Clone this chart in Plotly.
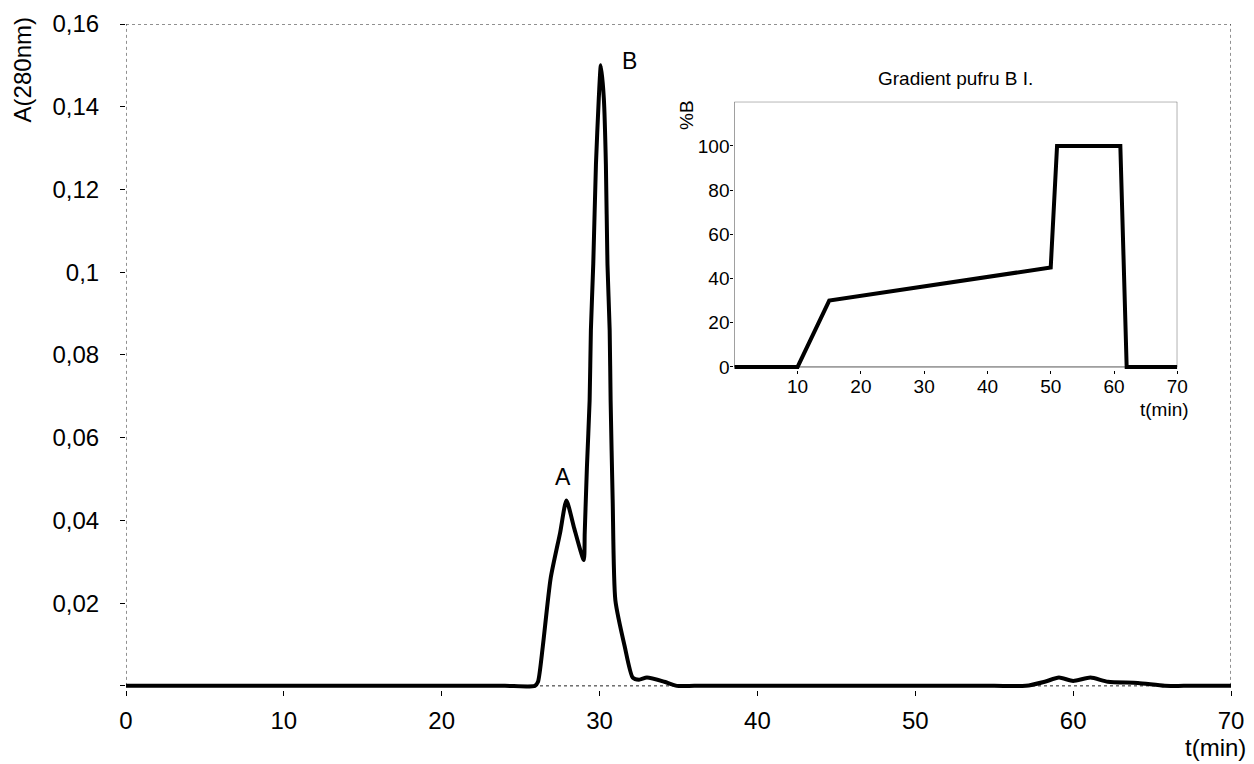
import plotly.graph_objects as go

# Chromatogram: elution time (min) vs absorbance at 280 nm
time_min = [0, 5, 10, 15, 20, 24, 25.9, 26.1, 26.4, 26.9, 27.5, 27.9, 28.4, 29.0, 29.06,
            29.2, 29.37, 29.45, 29.6, 29.77, 29.95, 30.08, 30.27, 30.4, 30.5, 30.64, 30.7,
            30.83, 31.0, 31.6, 32.1, 32.5, 33.0, 34.1, 34.9, 36, 40, 45, 50, 55, 57.0,
            58.2, 59.1, 60.0, 61.1, 62.2, 64.1, 65.8, 67, 70]
absorbance = [0, 0, 0, 0, 0, 0, 0, 0.001, 0.0094, 0.026, 0.037, 0.0448, 0.038, 0.0304, 0.037,
              0.053, 0.069, 0.086, 0.102, 0.126, 0.142, 0.150, 0.142, 0.126, 0.102, 0.086, 0.069,
              0.045, 0.0207, 0.0094, 0.002, 0.0015, 0.002, 0.001, 0, 0, 0, 0, 0, 0, 0,
              0.001, 0.002, 0.0012, 0.002, 0.001, 0.0007, 0, 0, 0]

# Buffer B gradient program
grad_time = [0, 10, 15, 50, 51, 61, 62, 70]
grad_pct_b = [0, 0, 30, 45, 100, 100, 0, 0]

x_ticks = [0, 10, 20, 30, 40, 50, 60, 70]
y_tick_vals = [0, 0.02, 0.04, 0.06, 0.08, 0.1, 0.12, 0.14, 0.16]
y_tick_text = ["", "0,02", "0,04", "0,06", "0,08", "0,1", "0,12", "0,14", "0,16"]

inset_x_ticks = [10, 20, 30, 40, 50, 60, 70]
inset_y_ticks = [0, 20, 40, 60, 80, 100]

peak_labels = ["A", "B"]
peak_label_pos = [(27.69, 0.0504), (31.91, 0.1511)]

FONT = "Liberation Sans, Arial, sans-serif"

# Axis ranges start slightly below zero so the thick baseline is not cut in half
Y_MAIN = [-0.001, 0.16]
Y_INSET = [-1.5, 120]

fig = go.Figure()

fig.add_trace(go.Scatter(
    x=time_min, y=absorbance, mode="lines",
    line=dict(color="black", width=4, shape="spline", smoothing=0.6),
    xaxis="x", yaxis="y", showlegend=False, hoverinfo="skip",
))

fig.add_trace(go.Scatter(
    x=grad_time, y=grad_pct_b, mode="lines",
    line=dict(color="black", width=4),
    xaxis="x2", yaxis="y2", showlegend=False, hoverinfo="skip",
))

# Dotted frame around the main plot area
for x0, y0, x1, y1 in [(0, 0, 0, 0.16), (0, 0.16, 70, 0.16), (70, 0, 70, 0.16), (0, 0, 70, 0)]:
    fig.add_shape(type="line", xref="x", yref="y", x0=x0, y0=y0, x1=x1, y1=y1,
                  line=dict(color="#222", width=1, dash="dot"), layer="below")

# Thin box around the inset
fig.add_shape(type="rect", xref="x2", yref="y2", x0=0, y0=0, x1=70, y1=120,
              line=dict(color="#555", width=1), fillcolor="rgba(0,0,0,0)", layer="below")

annotations = [
    dict(text="A(280nm)", xref="paper", yref="paper", x=-0.0937, y=0.931,
         textangle=-90, showarrow=False, font=dict(size=24, family=FONT, color="black"),
         xanchor="center", yanchor="middle"),
    dict(text="t(min)", xref="paper", yref="paper", x=1.015, y=-0.0856,
         showarrow=False, font=dict(size=24, family=FONT, color="black"),
         xanchor="right", yanchor="middle"),
    dict(text="Gradient pufru B I.", xref="paper", yref="paper", x=0.7505, y=0.9177,
         showarrow=False, font=dict(size=19, family=FONT, color="black"),
         xanchor="center", yanchor="middle"),
    dict(text="%B", xref="paper", yref="paper", x=0.507, y=0.8638,
         textangle=-90, showarrow=False, font=dict(size=19, family=FONT, color="black"),
         xanchor="center", yanchor="middle"),
    dict(text="t(min)", xref="paper", yref="paper", x=0.9640, y=0.4208,
         showarrow=False, font=dict(size=19, family=FONT, color="black"),
         xanchor="right", yanchor="middle"),
]
for label, (px, py) in zip(peak_labels, peak_label_pos):
    annotations.append(dict(text=label, x=px, y=py, xref="x", yref="y", showarrow=False,
                            font=dict(size=23, family=FONT, color="black"),
                            xanchor="center", yanchor="middle"))

fig.update_layout(
    width=1254, height=764,
    margin=dict(l=126, r=10, t=19, b=74),
    paper_bgcolor="white", plot_bgcolor="white",
    font=dict(family=FONT, color="black"),
    annotations=annotations,
    xaxis=dict(range=[0, 70], tickvals=x_ticks, ticks="outside", ticklen=5,
               tickcolor="black", tickwidth=1, showgrid=False, zeroline=False,
               showline=False, tickfont=dict(size=24), ticklabelstandoff=4),
    yaxis=dict(range=Y_MAIN, tickvals=y_tick_vals, ticktext=y_tick_text,
               ticks="outside", ticklen=5, tickcolor="black", tickwidth=1,
               showgrid=False, zeroline=False, showline=False,
               tickfont=dict(size=24), ticklabelstandoff=16),
    xaxis2=dict(domain=[0.5505, 0.9514], anchor="y2", range=[0, 70],
                tickvals=inset_x_ticks, ticks="outside", ticklen=3, tickcolor="black",
                showgrid=False, zeroline=False, showline=False, tickfont=dict(size=19),
                ticklabelstandoff=-4),
    yaxis2=dict(domain=[0.4801, 0.8833], anchor="x2", range=Y_INSET,
                tickvals=inset_y_ticks, ticks="outside", ticklen=3, tickcolor="black",
                showgrid=False, zeroline=False, showline=False, tickfont=dict(size=19),
                ticklabelstandoff=-3),
)

fig.write_html("out.html")
